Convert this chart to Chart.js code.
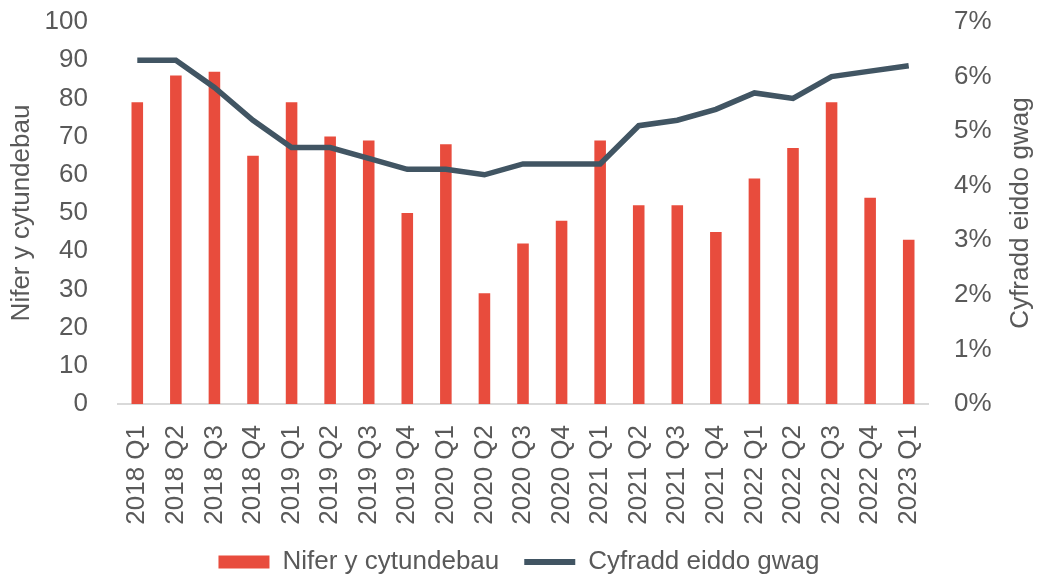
<!DOCTYPE html>
<html lang="cy">
  <head>
    <meta charset="UTF-8" />
    <title>Nifer y cytundebau a chyfradd eiddo gwag</title>
    <script src="https://cdn.jsdelivr.net/npm/chart.js"></script>
    <style>
      html, body { margin: 0; padding: 0; background: #fff; }
    </style>
  </head>
  <body>
    <canvas id="chart" width="1038" height="577"></canvas>

    <script>
      const labels = [
        "2018 Q1", "2018 Q2", "2018 Q3", "2018 Q4",
        "2019 Q1", "2019 Q2", "2019 Q3", "2019 Q4",
        "2020 Q1", "2020 Q2", "2020 Q3", "2020 Q4",
        "2021 Q1", "2021 Q2", "2021 Q3", "2021 Q4",
        "2022 Q1", "2022 Q2", "2022 Q3", "2022 Q4",
        "2023 Q1",
      ];
      // Nifer y cytundebau (bariau, echel chwith)
      const cytundebau = [79, 86, 87, 65, 79, 70, 69, 50, 68, 29, 42, 48, 69, 52, 52, 45, 59, 67, 79, 54, 43];
      // Cyfradd eiddo gwag, % (llinell, echel dde)
      const cyfradd = [6.3, 6.3, 5.8, 5.2, 4.7, 4.7, 4.5, 4.3, 4.3, 4.2, 4.4, 4.4, 4.4, 5.1, 5.2, 5.4, 5.7, 5.6, 6.0, 6.1, 6.2];

      const textColor = "#595959";
      const fontFamily = "'Liberation Sans', Arial, sans-serif";
      const fontSize = 26;

      // teitl yr echel dde, yn darllen o'r gwaelod i fyny
      const rightTitle = {
        id: "rightTitle",
        afterDraw(chart) {
          const ctx = chart.ctx;
          ctx.save();
          ctx.translate(1021, (chart.chartArea.top + chart.chartArea.bottom) / 2);
          ctx.rotate(-Math.PI / 2);
          ctx.fillStyle = textColor;
          ctx.font = fontSize + "px " + fontFamily;
          ctx.textAlign = "center";
          ctx.textBaseline = "middle";
          ctx.fillText("Cyfradd eiddo gwag", 0, 0);
          ctx.restore();
        },
      };

      const noPad = (axis) => {
        axis.paddingTop = 0;
        axis.paddingBottom = 0;
      };

      new Chart(document.getElementById("chart"), {
        data: {
          labels: labels,
          datasets: [
            {
              type: "line",
              label: "Cyfradd eiddo gwag",
              data: cyfradd,
              yAxisID: "y1",
              borderColor: "#415563",
              backgroundColor: "#415563",
              borderWidth: 5.5,
              pointRadius: 0,
              tension: 0,
              order: 0,
            },
            {
              type: "bar",
              label: "Nifer y cytundebau",
              data: cytundebau,
              yAxisID: "y",
              backgroundColor: "#E84C3D",
              categoryPercentage: 1,
              barPercentage: 0.3,
              order: 1,
            },
          ],
        },
        options: {
          responsive: false,
          animation: false,
          layout: { padding: { top: 22, bottom: -8 } },
          plugins: {
            tooltip: { enabled: false },
            legend: {
              position: "bottom",
              reverse: true,
              labels: {
                color: textColor,
                font: { size: fontSize, family: fontFamily },
                usePointStyle: true,
                pointStyleWidth: 51,
                boxHeight: 13,
                padding: 25,
                generateLabels(chart) {
                  return chart.data.datasets.map((ds, i) => ({
                    text: ds.label,
                    fillStyle: ds.backgroundColor,
                    strokeStyle: ds.borderColor || ds.backgroundColor,
                    lineWidth: ds.type === "line" ? 6 : 0,
                    pointStyle: ds.type === "line" ? "line" : "rect",
                    fontColor: textColor,
                    datasetIndex: i,
                    hidden: false,
                  }));
                },
              },
            },
          },
          scales: {
            x: {
              grid: { display: false },
              border: { display: true, color: "#D9D9D9", width: 2 },
              ticks: {
                color: textColor,
                font: { size: fontSize, family: fontFamily },
                minRotation: 90,
                maxRotation: 90,
                padding: 13,
                autoSkip: false,
              },
              afterFit(axis) { axis.height = 120; },
            },
            y: {
              position: "left",
              min: 0,
              max: 100,
              grid: { display: false },
              border: { display: false },
              ticks: {
                stepSize: 10,
                color: textColor,
                font: { size: fontSize, family: fontFamily },
                padding: 22,
              },
              title: {
                display: true,
                text: "Nifer y cytundebau",
                color: textColor,
                font: { size: fontSize, family: fontFamily },
                padding: { top: 6, bottom: 0 },
              },
              afterFit(axis) { axis.width = 118; noPad(axis); },
            },
            y1: {
              position: "right",
              min: 0,
              max: 7,
              grid: { display: false },
              border: { display: false },
              ticks: {
                stepSize: 1,
                color: textColor,
                font: { size: fontSize, family: fontFamily },
                padding: 18,
                callback: (v) => v + "%",
              },
              afterFit(axis) { axis.width = 110; noPad(axis); },
            },
          },
        },
        plugins: [rightTitle],
      });
    </script>
  </body>
</html>
